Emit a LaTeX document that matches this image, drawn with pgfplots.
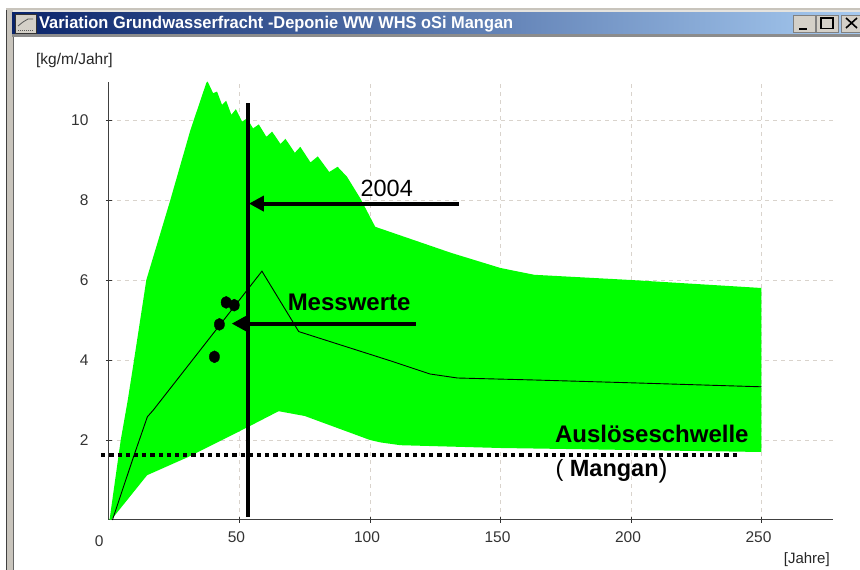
\documentclass[border=0pt]{standalone}
\usepackage{fontspec}
\setmainfont{Liberation Sans}
\usepackage{pgfplots}
\pgfplotsset{compat=1.18}
\usetikzlibrary{arrows.meta}
\definecolor{gridc}{HTML}{D9D3CC}
\definecolor{tb1}{HTML}{0A246A}
\definecolor{tb2}{HTML}{A6CAF0}
\definecolor{frame}{HTML}{C8C4BC}
\definecolor{btn}{HTML}{D4D0C8}
\begin{document}
\begin{tikzpicture}[x=1pt,y=1pt]
\useasboundingbox (0,0) rectangle (860,570);
% window chrome
\fill[white] (0,0) rectangle (860,570);
\fill[frame] (6,560) rectangle (860,562);
\fill[btn!60] (6,557) rectangle (860,560);
\fill[frame] (7,0) rectangle (13,560);
\fill[black!75] (6,0) rectangle (7,560);
\fill[black!60] (13,0) rectangle (14,534);
\shade[left color=tb1,right color=tb2,middle color=tb1!50!tb2] (12,536) rectangle (860,557);
\fill[black!45] (12,533) rectangle (860,536);
\node[anchor=west,inner sep=0pt,text=white,font=\bfseries] at (39,546) {\scalebox{0.965}[1]{\fontsize{17}{19}\selectfont Variation Grundwasserfracht -Deponie WW WHS oSi Mangan}};
\fill[btn,draw=black!80,line width=.8pt] (15.5,537) rectangle (36,556);
\draw[black!65,line width=.8pt] (18,544) -- (23,548) -- (28,551) -- (33,551);
\draw[black!65,line width=.8pt,dash pattern=on 1pt off 1pt] (18,540) -- (33,540);
\foreach \x/\w in {793/22,816/22,841/19}{\fill[btn,draw=black!50,line width=.6pt] (\x,538) rectangle +(\w,17);}
\draw[line width=2pt] (799,541) -- (807,541);
\draw[line width=1.2pt] (821,541.5) rectangle (833,552);\draw[line width=2pt] (821,551.5)--(833,551.5);
\draw[line width=1.6pt] (846,542) -- (857,552) (846,552) -- (857,542);
\begin{axis}[
  at={(109pt,50pt)},anchor=origin,
  scale only axis,width=724pt,height=438pt,
  xmin=0,xmax=277.4,ymin=0,ymax=10.95,
  axis lines*=left,clip=false,
  axis line style={line width=1pt,color=black!75},
  xtick={50,100,150,200,250},ytick={2,4,6,8,10},
  tick style={color=black!80,line width=.8pt},
  tick align=center,major tick length=6pt,
  grid=major,
  major grid style={dash pattern=on 4pt off 4pt,color=gridc,line width=.8pt},
  /pgf/number format/assume math mode=true,
  tick label style={font=\fontsize{15.5}{17}\selectfont,text=black!80},
  xticklabel style={xshift=-3pt,yshift=-5pt},
  yticklabel style={xshift=-14pt},
]
% range between the upper and lower curves
\addplot[draw=none,fill=green] coordinates {
(0.2,0)(4.5,2)(7.2,3)(9.6,4)(14.3,6)(18.9,7)(23.5,8)(31.2,9.75)(37.3,10.93)(37.8,10.96)
(39.9,10.67)(41.4,10.71)(43.3,10.38)(44.9,10.48)(46.9,10.13)(48.6,10.27)(51,9.96)
(52.9,10.04)(55.2,9.79)(57.4,9.89)(60.3,9.58)(62.5,9.71)(65.7,9.40)(67.6,9.53)
(71.2,9.18)(73.3,9.33)(77.2,8.94)(80,9.09)(84.4,8.70)(87.6,8.83)(91.2,8.58)(96.3,8.04)
(102,7.33)(131,6.68)(150,6.3)(163,6.13)(200,6.0)(250,5.8)
(250,1.7)(200,1.75)(150,1.8)(111.6,1.87)(104,1.94)(100,2)(75,2.6)(65,2.72)(53.4,2.33)
(30.5,1.58)(14.6,1.12)(0.8,0)} -- cycle;
% mean curve
\addplot[black,line width=.9pt] coordinates {
(1.3,0)(9.4,1.58)(14.7,2.58)(17,2.75)(58.6,6.22)(72.7,4.71)(107.8,3.98)(123,3.65)(133.5,3.55)
(163,3.5)(200,3.43)(250,3.33)};
% threshold
\addplot[black,line width=4pt,dash pattern=on 4.2pt off 4pt] coordinates {(-3,1.62)(240.6,1.62)};
% measured values
\addplot[only marks,mark=*,mark size=6pt,mark options={xscale=.85,fill=black,draw=black}] coordinates {
(44.9,5.44)(48,5.37)(42.3,4.89)(40.4,4.08)};
% 2004 line and arrows
\addplot[black,line width=4pt] coordinates {(53.4,0.07)(53.4,10.42)};
\addplot[black,line width=4pt,-{Triangle[length=15pt,width=15pt]}] coordinates {(134,7.91)(53.6,7.91)};
\addplot[black,line width=4pt,-{Triangle[length=15pt,width=15pt]}] coordinates {(117.6,4.91)(47,4.91)};
\node[font=\fontsize{15.5}{17}\selectfont,text=black!80] at (axis cs:-3.8,-0.53) {0};
\node[font=\fontsize{23.5}{26}\selectfont] at (axis cs:106.4,8.3) {2004};
\node[font=\fontsize{24}{26}\selectfont\bfseries] at (axis cs:92,5.43) {Messwerte};
\node[font=\fontsize{24}{26}\selectfont\bfseries] at (axis cs:208,2.15) {Auslöseschwelle};
\node[anchor=west,inner sep=0pt,font=\fontsize{23.5}{26}\selectfont\bfseries] at (axis cs:171,1.24) {{\mdseries(} Mangan\raisebox{-1pt}{\fontsize{27}{27}\selectfont\mdseries)}};
\node[anchor=west,inner sep=0pt,font=\fontsize{15.5}{17}\selectfont,text=black!85] at (axis cs:-28,11.5) {[kg/m/Jahr]};
\node[anchor=west,inner sep=0pt,font=\fontsize{15}{17}\selectfont,text=black!85] at (axis cs:258.5,-0.98) {[Jahre]};
\end{axis}
\end{tikzpicture}
\end{document}
